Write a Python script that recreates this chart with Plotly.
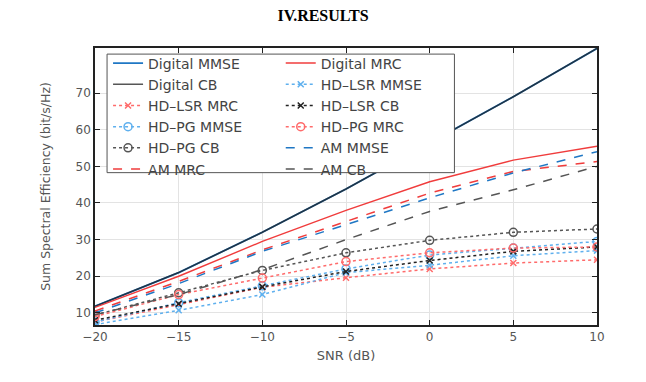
import plotly.graph_objects as go

snr = [-20, -15, -10, -5, 0, 5, 10]

digital_mmse = [11.8, 21.0, 32.0, 43.8, 56.4, 69.0, 82.2]
digital_cb = [11.8, 21.0, 32.0, 43.8, 56.4, 69.0, 82.2]
digital_mrc = [11.5, 20.0, 29.5, 38.0, 45.8, 51.7, 55.5]
am_mrc = [10.5, 18.6, 27.2, 35.0, 42.7, 48.6, 51.3]
am_mmse = [10.0, 18.0, 26.8, 34.0, 41.4, 48.2, 54.0]
am_cb = [9.5, 15.0, 21.8, 30.0, 37.7, 43.6, 50.0]
hdpg_cb = [9.4, 15.5, 21.6, 26.4, 29.8, 32.0, 32.9]
hdpg_mrc = [9.0, 15.0, 19.5, 24.0, 26.4, 27.7, 28.0]
hdpg_mmse = [7.5, 12.8, 17.4, 22.0, 25.8, 27.7, 29.5]
hdlsr_cb = [8.0, 12.5, 17.1, 21.3, 24.3, 26.8, 28.0]
hdlsr_mmse = [6.8, 10.7, 15.0, 21.0, 23.0, 25.6, 27.0]
hdlsr_mrc = [7.5, 12.3, 17.0, 19.6, 22.0, 23.6, 24.5]

x_ticks = [-20, -15, -10, -5, 0, 5, 10]
x_tick_text = ["\u221220", "\u221215", "\u221210", "\u22125", "0", "5", "10"]
y_ticks = [10, 20, 30, 40, 50, 60, 70]

BLUE = "#1f77c4"
RED = "#f03c3c"
BLACK = "#222222"
LBLUE = "#5fb0ee"
LRED = "#ff6b6b"
GRAY = "#555555"

fig = go.Figure()

def add(name, y, color, dash, width, legend, marker=None, msize=7):
    mode = "lines+markers" if marker else "lines"
    kw = dict(x=snr, y=y, name=name, mode=mode, legend=legend,
              line=dict(color=color, dash=dash, width=width))
    if marker:
        kw["marker"] = dict(symbol=marker, size=msize, color=color,
                            line=dict(color=color, width=1.5))
    fig.add_trace(go.Scatter(**kw))

# column 1
add("Digital MMSE", digital_mmse, BLUE, "solid", 1.8, "legend")
add("Digital CB", digital_cb, "rgba(30,30,30,0.75)", "solid", 1.6, "legend")
add("HD\u2013LSR MRC", hdlsr_mrc, LRED, "dot", 1.5, "legend", "x-thin-open", 6)
add("HD\u2013PG MMSE", hdpg_mmse, LBLUE, "dot", 1.5, "legend", "circle-open", 8)
add("HD\u2013PG CB", hdpg_cb, GRAY, "dot", 1.5, "legend", "circle-open", 8)
add("AM MRC", am_mrc, RED, "dash", 1.5, "legend")
# column 2
add("Digital MRC", digital_mrc, RED, "solid", 1.4, "legend2")
add("HD\u2013LSR MMSE", hdlsr_mmse, LBLUE, "dot", 1.5, "legend2", "x-thin-open", 6)
add("HD\u2013LSR CB", hdlsr_cb, BLACK, "dot", 1.5, "legend2", "x-thin-open", 6)
add("HD\u2013PG MRC", hdpg_mrc, LRED, "dot", 1.5, "legend2", "circle-open", 8)
add("AM MMSE", am_mmse, BLUE, "dash", 1.5, "legend2")
add("AM CB", am_cb, GRAY, "dash", 1.5, "legend2")

legend_font = dict(family="DejaVu Sans", size=14, color="#444444")

# the page body adds an 8px offset; margins compensate so the plot area
# lands at x 95..597, y 48..325 in the window
fig.update_layout(
    width=646, height=382,
    margin=dict(l=87, r=57, t=40, b=65, autoexpand=False),
    paper_bgcolor="white", plot_bgcolor="white",
    title=dict(text="<b>IV.RESULTS</b>", x=(323 - 8) / 646, xref="container", xanchor="center",
               y=1 - 7 / 382, yref="container", yanchor="middle",
               font=dict(family="Liberation Serif", size=16, color="black")),
    legend=dict(x=0.026, y=1.002, xanchor="left", yanchor="top",
                bgcolor="rgba(0,0,0,0)", font=legend_font, tracegroupgap=0),
    legend2=dict(x=0.37, y=1.002, xanchor="left", yanchor="top",
                 bgcolor="rgba(0,0,0,0)", font=legend_font, tracegroupgap=0),
    shapes=[dict(type="rect", xref="paper", yref="paper",
                 x0=0.024, x1=0.716, y0=0.55, y1=0.978,
                 line=dict(color="#555555", width=1), fillcolor="white",
                 layer="above")],
    font=dict(family="DejaVu Sans", color="#555555"),
)

fig.update_xaxes(range=[-20, 10], tickvals=x_ticks, ticktext=x_tick_text,
                 ticks="inside", ticklen=5, tickcolor="#222", showline=True,
                 linecolor="#222", linewidth=1.5, mirror="ticks", automargin=False,
                 showgrid=True, gridcolor="#e3e3e3", gridwidth=1, zeroline=False,
                 tickfont=dict(size=12, color="#555555"),
                 title=dict(text="SNR (dB)", font=dict(size=13, color="#555555"), standoff=8))
fig.update_yaxes(range=[6.7, 82.3], tickvals=y_ticks,
                 ticks="inside", ticklen=5, tickcolor="#222", showline=True,
                 linecolor="#222", linewidth=1.5, mirror="ticks", automargin=False,
                 showgrid=True, gridcolor="#e3e3e3", gridwidth=1, zeroline=False,
                 tickfont=dict(size=12, color="#555555"),
                 title=dict(text="Sum Spectral Efficiency (bit/s/Hz)",
                            font=dict(size=12.5, color="#555555"), standoff=22))

fig.write_html("out.html")
